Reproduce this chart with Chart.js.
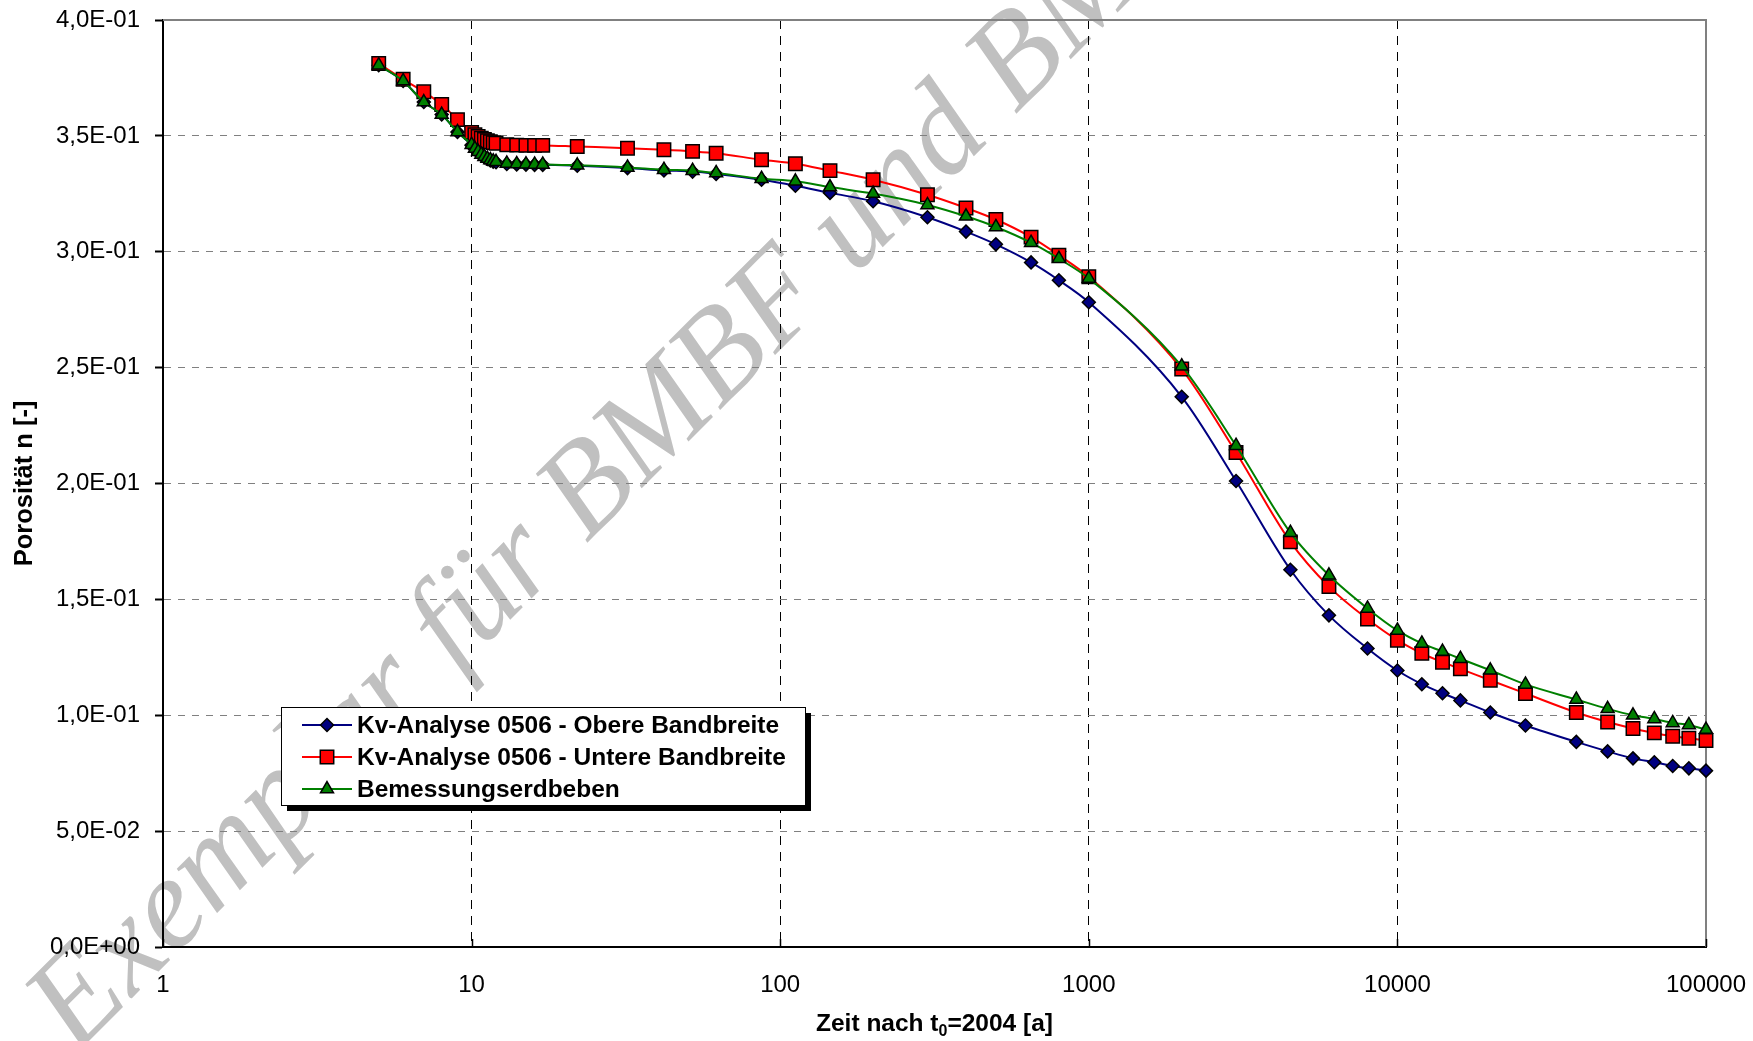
<!DOCTYPE html>
<html>
<head>
<meta charset="utf-8">
<script src="https://cdn.jsdelivr.net/npm/chart.js@4.4.1/dist/chart.umd.min.js"></script>
<style>
  html, body { margin: 0; padding: 0; background: #fff; }
  #wrap { width: 1753px; height: 1041px; }
</style>
</head>
<body>
<div id="wrap"><canvas id="chart" width="1753" height="1041"></canvas></div>
<script>
// Zeit nach t0=2004 [a]
const zeit = [5, 6, 7, 8, 9,
  10, 10.25, 10.5, 10.75, 11, 11.25, 11.5, 11.75, 12,
  13, 14, 15, 16, 17,
  22, 32, 42, 52, 62,
  87, 112, 145, 200,
  300, 400, 500, 650, 800, 1000,
  2000, 3000, 4500, 6000,
  8000, 10000, 12000, 14000, 16000, 20000, 26000, 38000, 48000, 58000, 68000, 78000, 88000, 100000];

const obereBandbreite = [0.3805, 0.3737, 0.3646, 0.3592, 0.3517,
  0.3460, 0.3443, 0.3430, 0.3418, 0.3408, 0.3400, 0.3394, 0.3389, 0.3386,
  0.3379, 0.3377, 0.3376, 0.3375, 0.3375,
  0.3371, 0.3361, 0.3351, 0.3346, 0.3336,
  0.3311, 0.3285, 0.3254, 0.3218,
  0.3149, 0.3087, 0.3032, 0.2954, 0.2877, 0.2782,
  0.2374, 0.2011, 0.1628, 0.1431,
  0.1288, 0.1193, 0.1134, 0.1095, 0.1064, 0.1012, 0.0956, 0.0885, 0.0844, 0.0814, 0.0797, 0.0781, 0.0771, 0.0761];

const untereBandbreite = [0.3812, 0.3744, 0.3690, 0.3635, 0.3570,
  0.3515, 0.3505, 0.3497, 0.3490, 0.3484, 0.3479, 0.3475, 0.3471, 0.3468,
  0.3462, 0.3460, 0.3459, 0.3459, 0.3459,
  0.3454, 0.3447, 0.3440, 0.3433, 0.3425,
  0.3397, 0.3380, 0.3350, 0.3311,
  0.3246, 0.3189, 0.3139, 0.3063, 0.2985, 0.2892,
  0.2494, 0.2134, 0.1748, 0.1555,
  0.1415, 0.1324, 0.1267, 0.1229, 0.1200, 0.1151, 0.1094, 0.1012, 0.0971, 0.0943, 0.0924, 0.0909, 0.0901, 0.0891];

const bemessungserdbeben = [0.3805, 0.3737, 0.3646, 0.3592, 0.3517,
  0.3462, 0.3445, 0.3432, 0.3420, 0.3410, 0.3402, 0.3396, 0.3391, 0.3388,
  0.3381, 0.3379, 0.3378, 0.3377, 0.3377,
  0.3373, 0.3364, 0.3354, 0.3350, 0.3340,
  0.3315, 0.3304, 0.3279, 0.3251,
  0.3202, 0.3153, 0.3107, 0.3039, 0.2970, 0.2885,
  0.2506, 0.2163, 0.1788, 0.1604,
  0.1461, 0.1366, 0.1310, 0.1275, 0.1244, 0.1194, 0.1133, 0.1068, 0.1028, 0.1000, 0.0984, 0.0967, 0.0958, 0.0938];

const seriesNames = ['Kv-Analyse 0506 - Obere Bandbreite', 'Kv-Analyse 0506 - Untere Bandbreite', 'Bemessungserdbeben'];
const xTicks = [1, 10, 100, 1000, 10000, 100000];
const yTicks = [0, 0.05, 0.1, 0.15, 0.2, 0.25, 0.3, 0.35, 0.4];
const yTickLabels = ['0,0E+00', '5,0E-02', '1,0E-01', '1,5E-01', '2,0E-01', '2,5E-01', '3,0E-01', '3,5E-01', '4,0E-01'];
const xTitleParts = ['Zeit nach t', '0', '=2004 [a]'];
const watermark = 'Exemplar für BMBF und BMU';

const FONT = '"Liberation Sans", Arial, sans-serif';
const toPoints = ys => zeit.map((t, i) => ({ x: t, y: ys[i] }));

// white page plus the grey stamp behind everything
const backgroundPlugin = {
  id: 'background',
  beforeDraw(chart) {
    const ctx = chart.ctx;
    ctx.save();
    ctx.fillStyle = '#ffffff';
    ctx.fillRect(0, 0, chart.width, chart.height);
    ctx.translate(76, 1054);
    ctx.rotate(-45 * Math.PI / 180);
    ctx.font = 'italic 130px "Liberation Serif", "DejaVu Serif", serif';
    ctx.fillStyle = '#c0c0c0';
    ctx.textBaseline = 'alphabetic';
    ctx.fillText(watermark, 0, 0);
    ctx.restore();
  }
};

// grey frame on top/right, small inward ticks on the x axis, x title with subscript
const framePlugin = {
  id: 'frame',
  beforeDatasetsDraw(chart) {
    const { ctx, chartArea: a } = chart;
    const xs = chart.scales.x;
    ctx.save();
    ctx.strokeStyle = '#808080';
    ctx.lineWidth = 2;
    ctx.beginPath();
    ctx.moveTo(a.left, a.top);
    ctx.lineTo(a.right, a.top);
    ctx.lineTo(a.right, a.bottom);
    ctx.stroke();
    ctx.strokeStyle = '#000';
    ctx.lineWidth = 1.5;
    xTicks.forEach(v => {
      const px = Math.round(xs.getPixelForValue(v)) + 0.5;
      ctx.beginPath();
      ctx.moveTo(px, a.bottom);
      ctx.lineTo(px, a.bottom - 8);
      ctx.stroke();
    });

    // x axis title: "Zeit nach t0=2004 [a]" with subscript 0
    const big = 'bold 24.5px ' + FONT;
    const small = 'bold 16px ' + FONT;
    ctx.fillStyle = '#000';
    ctx.textBaseline = 'alphabetic';
    ctx.textAlign = 'left';
    ctx.font = big;
    const w0 = ctx.measureText(xTitleParts[0]).width;
    const w2 = ctx.measureText(xTitleParts[2]).width;
    ctx.font = small;
    const w1 = ctx.measureText(xTitleParts[1]).width;
    let x = (a.left + a.right) / 2 - (w0 + w1 + w2) / 2;
    const base = 1031;
    ctx.font = big;
    ctx.fillText(xTitleParts[0], x, base);
    x += w0;
    ctx.font = small;
    ctx.fillText(xTitleParts[1], x, base + 5);
    x += w1;
    ctx.font = big;
    ctx.fillText(xTitleParts[2], x, base);
    ctx.restore();
  }
};

// boxed legend with a drop shadow inside the plot
const legendBoxPlugin = {
  id: 'legendBox',
  afterDatasetsDraw(chart) {
    const ctx = chart.ctx;
    const box = { x: 281, y: 707, w: 524, h: 98 };
    ctx.save();
    ctx.fillStyle = '#000';
    ctx.fillRect(box.x + 6, box.y + 6, box.w, box.h);
    ctx.fillStyle = '#fff';
    ctx.fillRect(box.x, box.y, box.w, box.h);
    ctx.strokeStyle = '#000';
    ctx.lineWidth = 1;
    ctx.strokeRect(box.x + 0.5, box.y + 0.5, box.w, box.h);
    ctx.font = 'bold 24.5px ' + FONT;
    ctx.textBaseline = 'middle';
    ctx.textAlign = 'left';
    chart.data.datasets.forEach((ds, i) => {
      const cy = 725 + i * 32;
      ctx.strokeStyle = ds.borderColor;
      ctx.lineWidth = 2;
      ctx.beginPath();
      ctx.moveTo(302, cy);
      ctx.lineTo(352, cy);
      ctx.stroke();
      ctx.fillStyle = ds.pointBackgroundColor;
      ctx.strokeStyle = ds.pointBorderColor;
      ctx.lineWidth = ds.pointBorderWidth;
      Chart.helpers.drawPoint(ctx, {
        pointStyle: ds.pointStyle, radius: ds.pointRadius, borderWidth: ds.pointBorderWidth, rotation: 0
      }, 327, cy);
      ctx.fillStyle = '#000';
      ctx.fillText(ds.label, 357, cy + 1);
    });
    ctx.restore();
  }
};

const common = {
  borderWidth: 2,
  pointBorderColor: '#000',
  pointBorderWidth: 1.5,
  cubicInterpolationMode: 'monotone',
  clip: false,
  fill: false
};

new Chart(document.getElementById('chart'), {
  type: 'line',
  data: {
    datasets: [
      Object.assign({}, common, {
        label: seriesNames[0],
        data: toPoints(obereBandbreite),
        borderColor: '#000080',
        pointStyle: 'rectRot',
        pointRadius: 6.5,
        pointHoverRadius: 6.5,
        pointBackgroundColor: '#000080',
        order: 3
      }),
      Object.assign({}, common, {
        label: seriesNames[1],
        data: toPoints(untereBandbreite),
        borderColor: '#ff0000',
        pointStyle: 'rect',
        pointRadius: 9.5,
        pointHoverRadius: 9.5,
        pointBackgroundColor: '#ff0000',
        order: 2
      }),
      Object.assign({}, common, {
        label: seriesNames[2],
        data: toPoints(bemessungserdbeben),
        borderColor: '#008000',
        pointStyle: 'triangle',
        pointRadius: 7.5,
        pointHoverRadius: 7.5,
        pointBackgroundColor: '#008000',
        order: 1
      })
    ]
  },
  options: {
    responsive: false,
    animation: false,
    devicePixelRatio: 1,
    layout: { padding: { left: 0, right: 47, top: 20, bottom: 0 } },
    plugins: {
      legend: { display: false },
      tooltip: { enabled: false }
    },
    scales: {
      x: {
        type: 'logarithmic',
        min: 1,
        max: 100000,
        afterBuildTicks: s => { s.ticks = xTicks.map(v => ({ value: v })); },
        afterFit: s => { s.height = 94; s.paddingLeft = 0; s.paddingRight = 0; },
        grid: {
          color: '#000',
          lineWidth: 1,
          drawTicks: false
        },
        border: { color: '#000', width: 2, dash: [9, 7] },
        ticks: {
          color: '#000',
          padding: 24,
          maxRotation: 0,
          autoSkip: false,
          font: { family: FONT, size: 24 },
          callback: v => String(v)
        },
        title: { display: false }
      },
      y: {
        min: 0,
        max: 0.4,
        afterBuildTicks: s => { s.ticks = yTicks.map(v => ({ value: v })); },
        afterFit: s => { s.width = 163; s.paddingTop = 0; s.paddingBottom = 0; },
        grid: {
          color: '#808080',
          lineWidth: 1,
          tickLength: 8,
          tickColor: '#000',
          tickWidth: 2,
          tickBorderDash: []
        },
        border: { color: '#000', width: 2, dash: [7, 7] },
        ticks: {
          color: '#000',
          padding: 15,
          font: { family: FONT, size: 24 },
          callback: (v, i) => yTickLabels[yTicks.indexOf(v)] ?? yTickLabels[i]
        },
        title: {
          display: true,
          text: 'Porosität n [-]',
          color: '#000',
          padding: { top: 10, bottom: 0 },
          font: { family: FONT, size: 25.5, weight: 'bold' }
        }
      }
    }
  },
  plugins: [backgroundPlugin, framePlugin, legendBoxPlugin]
});
</script>
</body>
</html>
